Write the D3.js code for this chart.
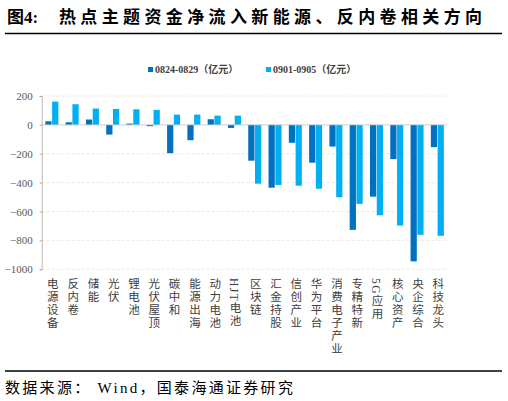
<!DOCTYPE html>
<html>
<head>
<meta charset="utf-8">
<script src="https://cdn.jsdelivr.net/npm/d3@7"></script>
<style>
  body { margin: 0; background: #fff; }
  svg { display: block; }
</style>
</head>
<body>
<div id="chart"></div>
<script>
// Categories and series (亿元)
const categories = ["电源设备", "反内卷", "储能", "光伏", "锂电池", "光伏屋顶", "碳中和", "能源出海",
  "动力电池", "HJT电池", "区块链", "汇金持股", "信创产业", "华为平台", "消费电子产业", "专精特新",
  "5G应用", "核心资产", "央企综合", "科技龙头"];
const seriesNames = ["0824-0829（亿元）", "0901-0905（亿元）"];
const week1 = [25, 18, 37, -67, 9, -9, -196, -106, 39, -21, -248, -435, -124, -262, -150, -727, -497, -237, -945, -154];
const week2 = [161, 143, 113, 110, 108, 104, 71, 71, 64, 64, -407, -416, -421, -442, -501, -547, -626, -697, -761, -768];
const yTicks = [200, 0, -200, -400, -600, -800, -1000];
const colors = ["#0070C0", "#00B0F0"];

const W = 508, H = 401;
const serif = "'Liberation Serif', 'Noto Sans CJK SC', serif";
const cjk = "'Liberation Serif', 'Noto Sans CJK SC', sans-serif";

const svg = d3.select("#chart").append("svg")
  .attr("width", W)
  .attr("height", H);

// Title and rules
svg.append("text")
  .attr("x", 7).attr("y", 23)
  .attr("font-family", cjk).attr("font-size", 17).attr("font-weight", "bold")
  .attr("fill", "#000")
  .text("图4:");
svg.append("text")
  .attr("x", 59).attr("y", 23)
  .attr("font-family", cjk).attr("font-size", 17).attr("font-weight", "bold")
  .attr("fill", "#000")
  .attr("textLength", 423).attr("lengthAdjust", "spacing")
  .text("热点主题资金净流入新能源、反内卷相关方向");
svg.append("line")
  .attr("x1", 5).attr("x2", 502).attr("y1", 33.5).attr("y2", 33.5)
  .attr("stroke", "#000").attr("stroke-width", 1.5);
svg.append("line")
  .attr("x1", 5).attr("x2", 502).attr("y1", 371).attr("y2", 371)
  .attr("stroke", "#000").attr("stroke-width", 1.5);
svg.append("text")
  .attr("x", 5).attr("y", 393)
  .attr("font-family", cjk).attr("font-size", 15)
  .attr("fill", "#000")
  .attr("letter-spacing", 2.3)
  .text("数据来源： Wind，国泰海通证券研究");

// Legend
const legendX = [148, 266];
seriesNames.forEach(function(name, i) {
  svg.append("rect")
    .attr("x", legendX[i]).attr("y", 67)
    .attr("width", 5).attr("height", 5)
    .attr("fill", colors[i]);
  svg.append("text")
    .attr("x", legendX[i] + 7).attr("y", 73)
    .attr("font-family", serif).attr("font-size", 10).attr("font-weight", "bold")
    .attr("fill", "#404040")
    .text(name);
});

// Scales
const x0 = d3.scaleBand()
  .domain(categories)
  .range([41.7, 447.5]);
const x1 = d3.scaleBand()
  .domain([0, 1])
  .range([0, 13])
  .paddingInner(0.08);
const y = d3.scaleLinear()
  .domain([-1000, 200])
  .range([269.3, 96]);
const offset = (x0.bandwidth() - 13) / 2;

// Grid lines
svg.append("g")
  .selectAll("line")
  .data(yTicks.filter(d => d !== 0))
  .enter()
  .append("line")
  .attr("x1", 41.7).attr("x2", 447.5)
  .attr("y1", d => y(d)).attr("y2", d => y(d))
  .attr("stroke", "#e3e3e3")
  .attr("stroke-dasharray", "3,2")
  .attr("stroke-width", 0.8);

// Y axis
const yAxis = svg.append("g")
  .attr("transform", "translate(41.7,0)")
  .call(d3.axisLeft(y).tickValues(yTicks).tickSize(2).tickPadding(7).tickFormat(d3.format("d")));
yAxis.attr("font-family", null);
yAxis.select(".domain").attr("stroke", "#a6a6a6").attr("stroke-width", 0.8);
yAxis.selectAll(".tick line").attr("stroke", "#a6a6a6");
yAxis.selectAll(".tick text")
  .attr("font-family", serif).attr("font-size", 11).attr("fill", "#595959");

// Bars
const series = [week1, week2];
series.forEach(function(values, s) {
  svg.append("g")
    .selectAll("rect")
    .data(values)
    .enter()
    .append("rect")
    .attr("x", (d, i) => x0(categories[i]) + offset + x1(s))
    .attr("y", d => y(Math.max(0, d)))
    .attr("width", x1.bandwidth())
    .attr("height", d => Math.abs(y(d) - y(0)))
    .attr("fill", colors[s]);
});

// Zero line
svg.append("line")
  .attr("x1", 41.7).attr("x2", 447.5)
  .attr("y1", y(0)).attr("y2", y(0))
  .attr("stroke", "#bfbfbf").attr("stroke-width", 0.8);

// Category labels, vertical
svg.append("g")
  .selectAll("text")
  .data(categories)
  .enter()
  .append("text")
  .attr("x", d => x0(d) + x0.bandwidth() / 2)
  .attr("y", 278)
  .attr("writing-mode", "vertical-rl")
  .style("writing-mode", "vertical-rl")
  .attr("font-family", cjk).attr("font-size", 11.5)
  .attr("letter-spacing", 1.5)
  .attr("fill", "#404040")
  .text(d => d);
</script>
</body>
</html>
